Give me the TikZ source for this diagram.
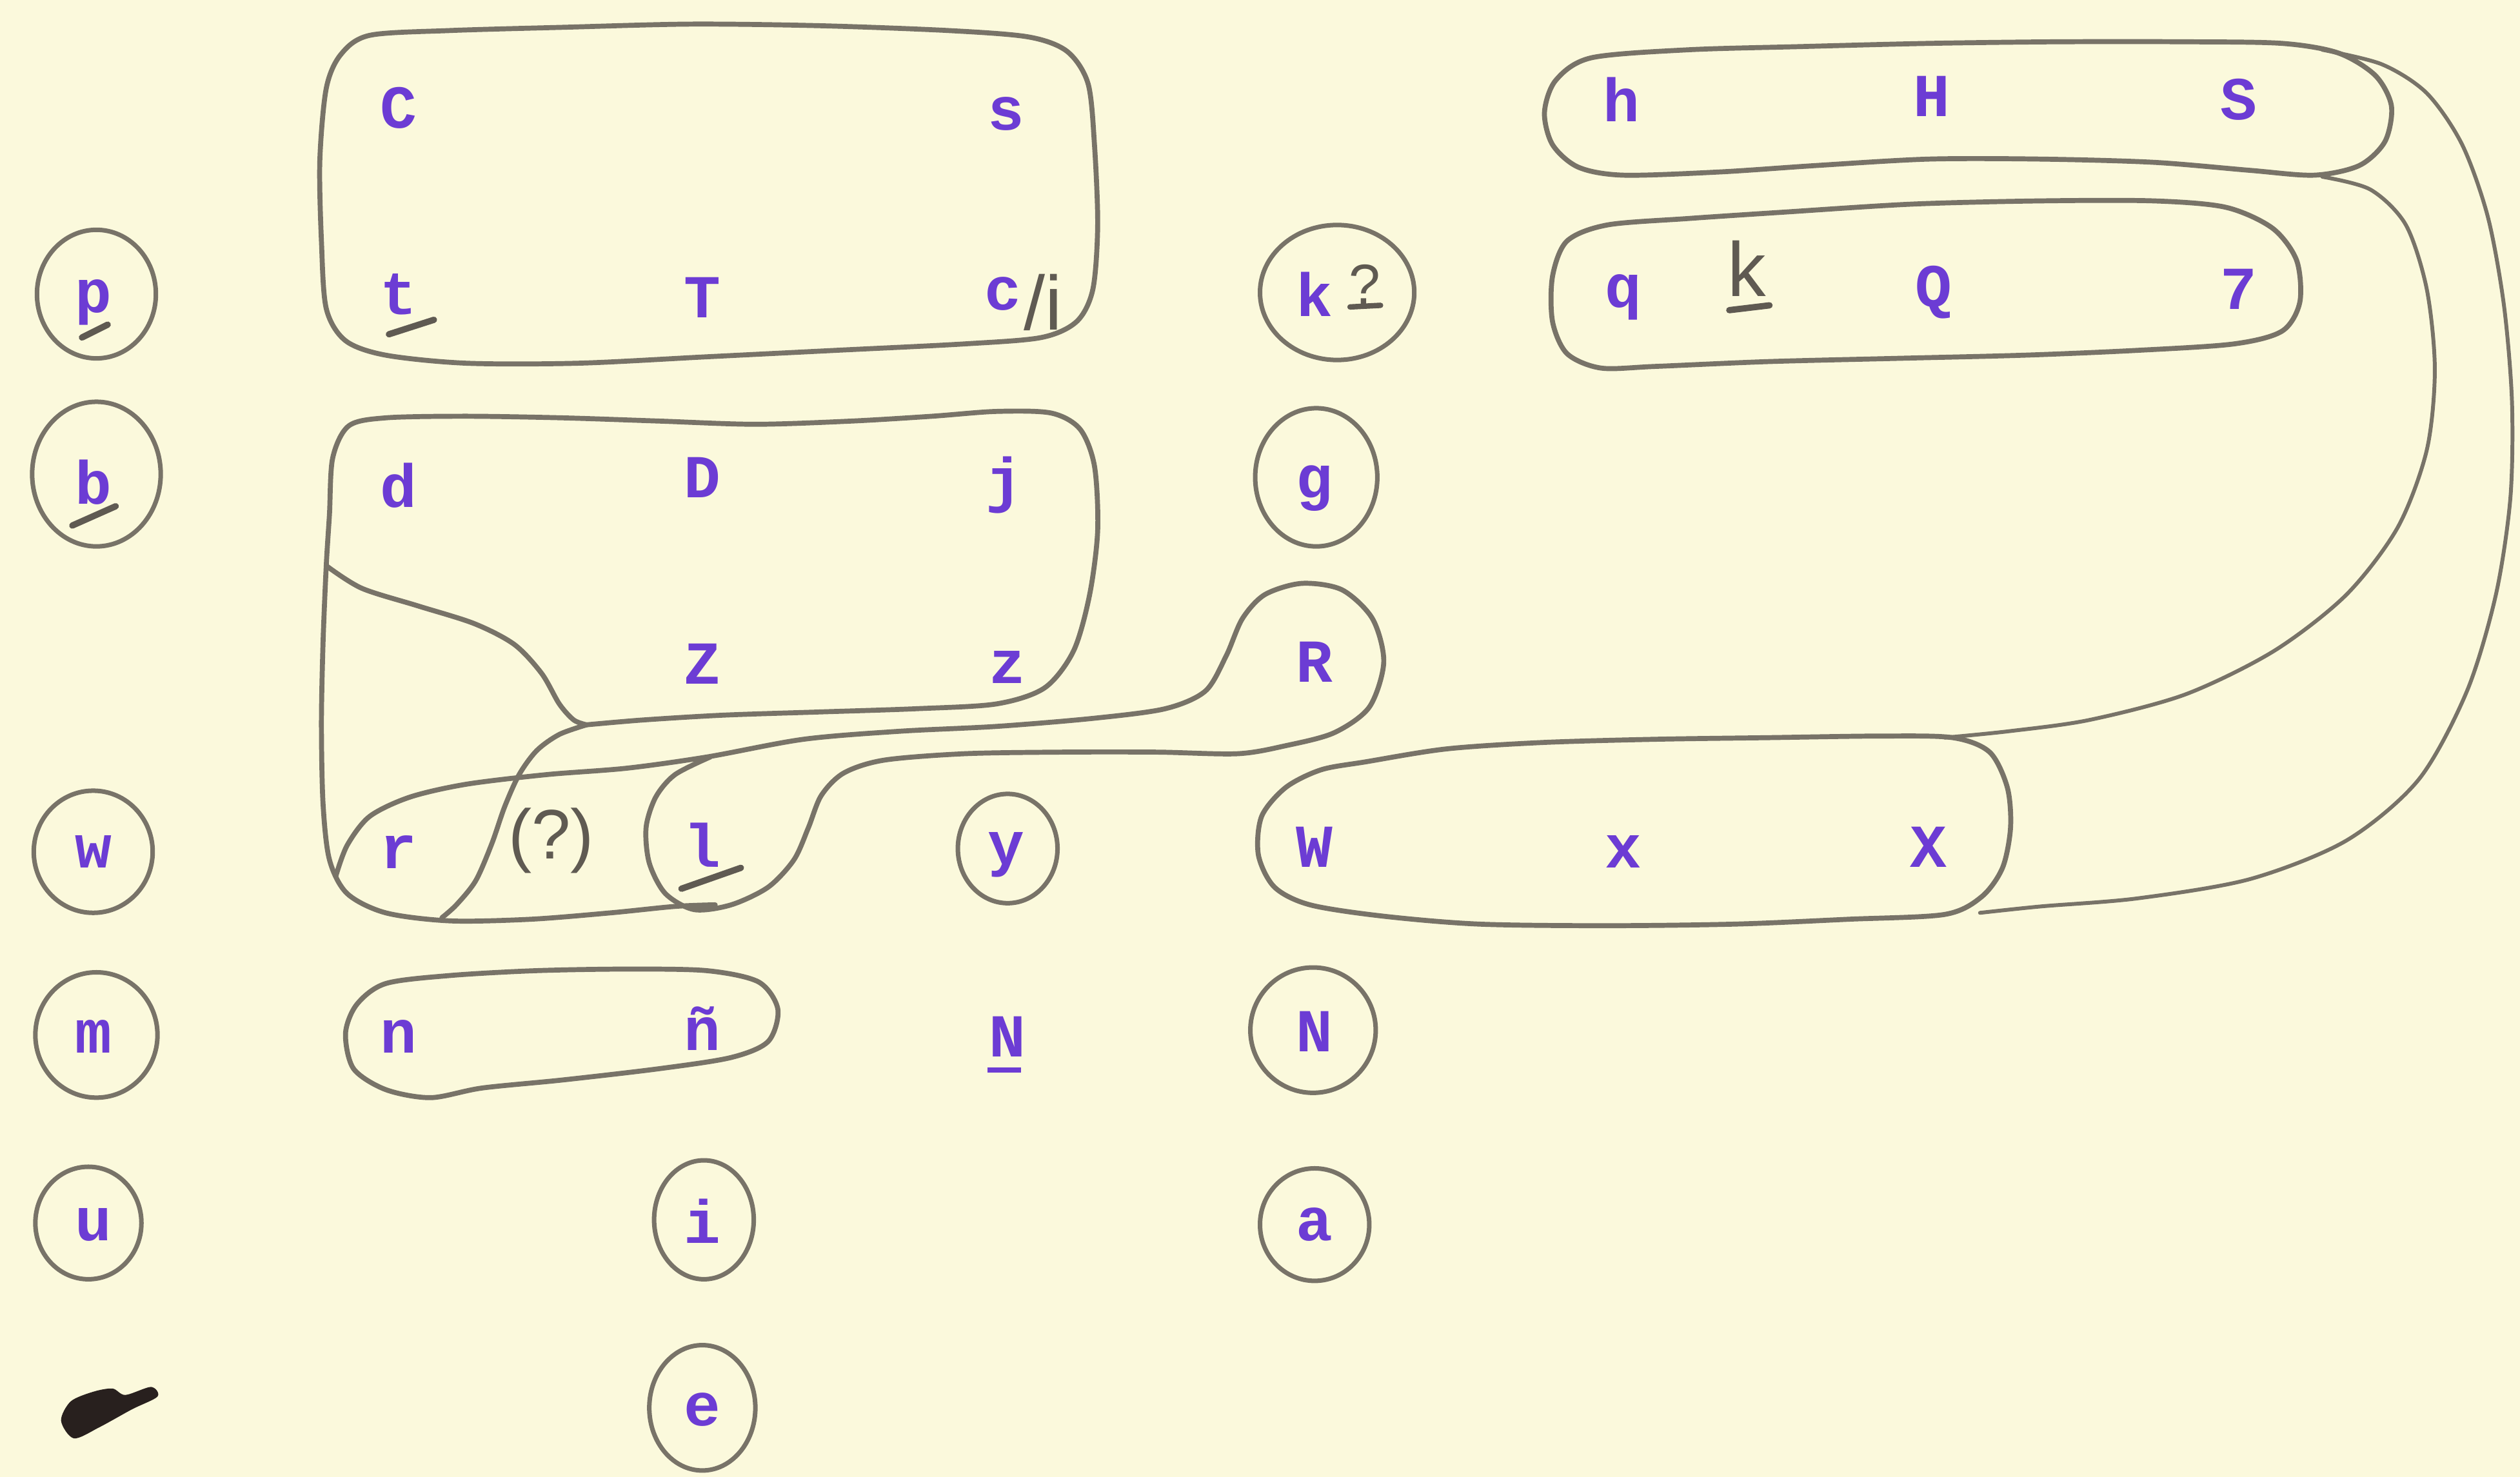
\documentclass[tikz,border=0pt]{standalone}
\usepackage{fontspec}
\newfontfamily\twfont{Liberation Mono}
\newfontfamily\handfont{Liberation Sans}
\definecolor{paper}{RGB}{251,249,220}
\definecolor{ink}{RGB}{108,60,212}
\definecolor{lead}{RGB}{120,115,104}
\definecolor{leaddark}{RGB}{95,90,82}
\definecolor{blot}{RGB}{40,32,30}
\tikzset{
  typed/.style={text=ink, font=\twfont\bfseries\fontsize{27}{28}\selectfont, inner sep=0pt},
  hand/.style={text=leaddark, font=\handfont\fontsize{#1}{#1}\selectfont, inner sep=0pt},
  pencil/.style={draw=lead, line width=2.2pt, line cap=round, line join=round},
  ring/.style={pencil, line width=2pt},
  arcline/.style={pencil, line width=1.7pt},
  uline/.style={draw=leaddark, line width=2.8pt, line cap=round},
  typeline/.style={draw=ink, line width=2.4pt},
}
\begin{document}
\begin{tikzpicture}[x=0.025cm, y=-0.025cm]
\useasboundingbox (0,0) rectangle (1568,919);
\fill[paper] (0,0) rectangle (1568,919);

% ---------- typed letters ----------
\node[typed] (nC) at (248,67) {C};
\node[typed] (ns) at (626,71) {s};
\node[typed] (nh) at (1009,62) {h};
\node[typed] (nH) at (1202,60) {H};
\node[typed] (nS) at (1393,62) {S};

\node[typed] (np) at (58,188) {p};
\node[typed] (nt) at (248,183) {t};
\node[typed] (nT) at (437,185) {T};
\node[typed] (nc) at (624,183) {c};
\node[typed] (nk) at (818,183) {k};
\node[typed] (nq) at (1010,185) {q};
\node[typed] (nQ) at (1203,182) {Q};
\node[typed] (nseven) at (1393,180) {7};

\node[typed] (nb) at (58,300) {b};
\node[typed] (nd) at (248,302) {d};
\node[typed] (nD) at (437,297) {D};
\node[typed] (nj) at (625,302) {j};
\node[typed] (ng) at (818,304) {g};

\node[typed] (nZ) at (437,413) {Z};
\node[typed] (nz) at (627,415) {z};
\node[typed] (nR) at (818,412) {R};

\node[typed] (nw) at (58,530) {w};
\node[typed] (nr) at (248,530) {r};
\node[typed] (nl) at (437,526) {l};
\node[typed] (ny) at (626,532) {y};
\node[typed] (nW) at (818,527) {W};
\node[typed] (nx) at (1010,530) {x};
\node[typed] (nX) at (1200,527) {X};

\node[typed] (nm) at (58,645) {m};
\node[typed] (nn) at (248,645) {n};
\node[typed] (nenye) at (437,640) {ñ};
\node[typed] (nNu) at (627,645) {N};
\node[typed] (nN) at (818,642) {N};

\node[typed] (nu) at (58,762) {u};
\node[typed] (ni) at (437,760) {i};
\node[typed] (na) at (818,762) {a};
\node[typed] (ne) at (437,877) {e};

% typed underline under N
\draw[typeline] (nNu.south west) ++(-1,8) -- ++(21,0);

% ---------- handwritten additions ----------
\node[hand=34] (hslash) at (649,188) {/i};
\node[hand=25] (hquery) at (849,177) {?};
\node[hand=31] (hparen) at (343,523) {(?)};
\node[hand=34] (hk) at (1087,167) {k};

% pencil underlines
\draw[uline] (np) ++(-7,22) -- ++(16,-8);
\draw[uline] (nb) ++(-13,27) -- ++(27,-12);
\draw[uline] (nt) ++(-6,25) -- ++(28,-9);
\draw[uline] (nl) ++(-13,27) -- ++(37,-13);
\draw[uline] (hk) ++(-11,26) -- ++(25,-3);
\draw[uline, line width=2.4pt] (hquery) ++(-9,14) -- ++(19,-1);

% ---------- circles ----------
\draw[ring] (np) ++(2,-5) ellipse [x radius=37, y radius=40];
\draw[ring] (nb) ++(2,-5) ellipse [x radius=40, y radius=45];
\draw[ring] (nw) ++(0,0) ellipse [x radius=37, y radius=38];
\draw[ring] (nm) ++(2,-1) ellipse [x radius=38, y radius=39];
\draw[ring] (nu) ++(-3,-1) ellipse [x radius=33, y radius=35];
\draw[ring] (nk) ++(14,-1) ellipse [x radius=48, y radius=42];
\draw[ring] (ng) ++(1,-7) ellipse [x radius=38, y radius=43];
\draw[ring] (ny) ++(1,-4) ellipse [x radius=31, y radius=34];
\draw[ring] (nN) ++(-1,-1) ellipse [x radius=39, y radius=39];
\draw[ring] (na) ++(0,0) ellipse [x radius=34, y radius=35];
\draw[ring] (ni) ++(1,-1) ellipse [x radius=31, y radius=37];
\draw[ring] (ne) ++(0,-1) ellipse [x radius=33, y radius=39];

% ---------- loops ----------
% C s t T c/i
\draw[pencil] plot[smooth cycle, tension=0.5] coordinates {
 (230,22) (280,19) (350,17) (430,15) (510,16) (590,19) (640,23) (664,32)
 (677,52) (681,90) (683,140) (680,180) (670,200) (648,210) (600,214)
 (520,218) (440,222) (360,226) (290,226) (240,221) (215,212) (203,192)
 (200,150) (199,100) (203,55) (212,34)};

% d D j Z z, left side continuing round r
\draw[pencil] plot[smooth, tension=0.5] coordinates {
 (365,451) (400,448) (450,445) (510,443) (570,441) (620,438) (650,428)
 (668,405) (678,370) (683,330) (681,290) (672,267) (654,257) (620,256)
 (580,259) (530,262) (470,264) (410,262) (350,260) (290,259) (240,260)
 (217,265) (207,285) (205,320) (203,352) (201,400) (200,450) (201,500)
 (205,535) (216,556) (240,568) (280,573) (330,572) (380,568) (420,564) (445,563)};
% inner curve
\draw[pencil] plot[smooth, tension=0.5] coordinates {
 (203,352) (225,366) (260,377) (295,388) (320,401) (337,419) (348,438)
 (357,448) (365,451)};
% diagonal
\draw[pencil] plot[smooth, tension=0.5] coordinates {
 (365,451) (348,457) (334,467) (323,482) (314,502) (306,525) (296,548)
 (284,563) (275,571)};

% r ... l ... R
\draw[pencil] plot[smooth, tension=0.5] coordinates {
 (209,545) (216,526) (230,508) (255,496) (290,488) (340,482) (390,478)
 (440,471) (500,460) (560,455) (620,452) (680,447) (725,441) (750,430)
 (763,408) (773,385) (787,370) (810,363) (835,367) (854,385) (861,412)
 (852,440) (830,456) (800,464) (770,469) (720,468) (660,468) (600,469)
 (550,473) (525,481) (511,495) (503,515) (494,535) (478,552) (455,563)
 (432,566) (414,556) (404,537) (402,515) (408,496) (420,482) (442,471)};

% n ~n
\draw[pencil] plot[smooth cycle, tension=0.5] coordinates {
 (215,643) (222,625) (240,612) (280,607) (333,604) (390,603) (440,604)
 (472,611) (484,628) (478,648) (455,658) (410,665) (350,672) (300,677)
 (268,683) (240,678) (220,665)};

% h H S
\draw[pencil] plot[smooth cycle, tension=0.5] coordinates {
 (990,36) (1050,31) (1120,29) (1200,27) (1280,26) (1360,26) (1420,27)
 (1455,33) (1478,47) (1488,66) (1484,88) (1468,103) (1440,109) (1400,106)
 (1340,101) (1270,99) (1200,99) (1130,103) (1070,107) (1010,109) (982,104)
 (966,90) (961,70) (968,50)};

% q k Q 7
\draw[pencil] plot[smooth cycle, tension=0.5] coordinates {
 (1000,140) (1050,136) (1110,132) (1190,127) (1270,125) (1340,125)
 (1385,129) (1414,142) (1429,162) (1431,188) (1420,206) (1390,214)
 (1330,218) (1260,221) (1180,223) (1100,225) (1030,228) (996,229)
 (975,220) (966,200) (966,172) (975,150)};

% W x X
\draw[pencil] plot[smooth cycle, tension=0.5] coordinates {
 (850,474) (900,466) (960,462) (1030,460) (1100,459) (1170,458) (1215,459)
 (1238,468) (1249,490) (1251,515) (1246,540) (1233,558) (1210,569)
 (1150,572) (1080,575) (1000,576) (920,575) (860,570) (815,563) (793,552)
 (783,532) (785,508) (800,490) (822,479)};

% band round the right
\draw[arcline] plot[smooth, tension=0.5] coordinates {
 (1445,31) (1482,40) (1510,58) (1532,90) (1548,135) (1558,190) (1563,250)
 (1562,310) (1553,370) (1535,430) (1505,485) (1460,523) (1400,547)
 (1330,559) (1270,564) (1232,568)};
\draw[arcline] plot[smooth, tension=0.5] coordinates {
 (1445,110) (1475,118) (1497,140) (1510,180) (1515,230) (1510,280)
 (1492,328) (1460,370) (1415,405) (1360,432) (1300,448) (1250,455) (1210,459)};

% ---------- blot ----------
\fill[blot] plot[smooth cycle, tension=0.5] coordinates {
 (38,884) (44,872) (58,866) (70,864) (78,868) (94,863) (98,869)
 (82,877) (62,888) (46,895)};
\end{tikzpicture}
\end{document}
